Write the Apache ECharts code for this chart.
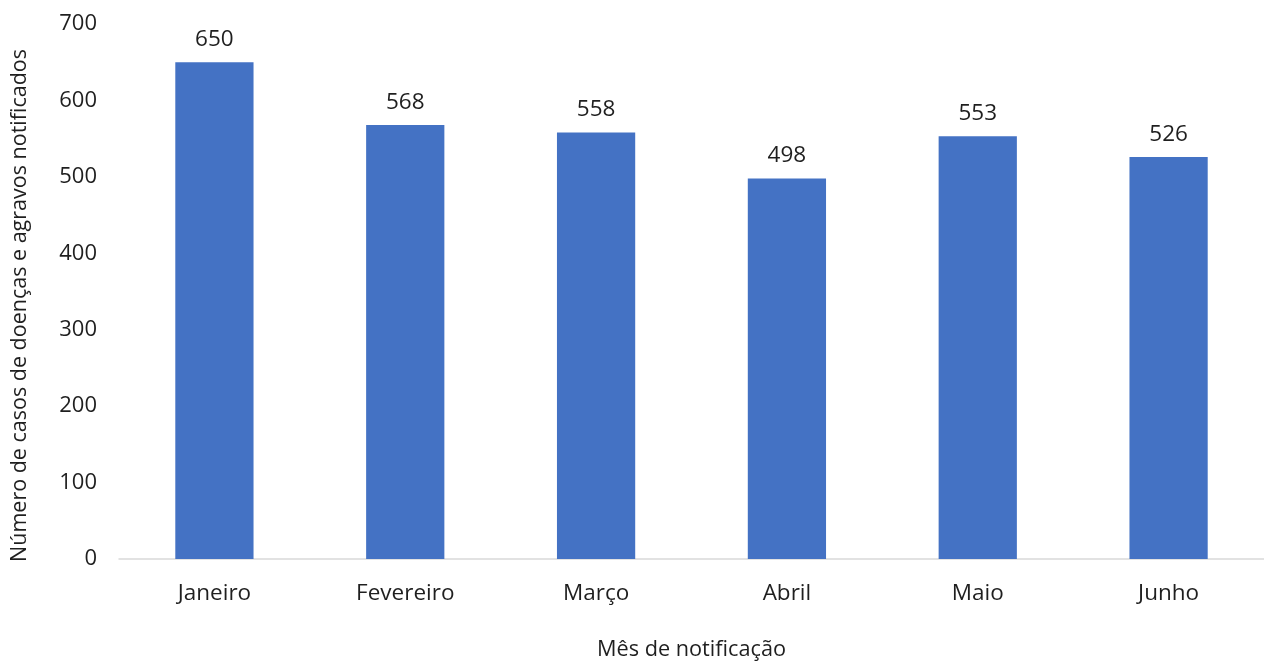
<!DOCTYPE html>
<html>
<head>
<meta charset="utf-8">
<script src="https://cdn.jsdelivr.net/npm/echarts@6/dist/echarts.min.js"></script>
<style>html,body{margin:0;padding:0;background:#fff;overflow:hidden}#c{width:100vw;height:100vh}</style>
</head>
<body>
<div id="c"></div>
<script>
const categories = ['Janeiro', 'Fevereiro', 'Março', 'Abril', 'Maio', 'Junho'];
const values = [650, 568, 558, 498, 553, 526];
const yTicks = [0, 100, 200, 300, 400, 500, 600, 700];

const font = '"Open Sans", "Noto Sans", sans-serif';
const txt = '#1f1f1f';
const chart = echarts.init(document.getElementById('c'));
chart.setOption({
  animation: false,
  textStyle: { fontFamily: font },
  grid: { left: 119, right: -10, top: 24, bottom: 99, containLabel: false },
  xAxis: {
    type: 'category',
    data: categories,
    axisTick: { show: false },
    axisLine: { lineStyle: { color: '#d9d9d9', width: 1.5 } },
    axisLabel: { color: txt, fontSize: 22.5, margin: 23, fontFamily: font },
    name: 'Mês de notificação',
    nameLocation: 'middle',
    nameGap: 80,
    nameTextStyle: { color: txt, fontSize: 21.7, fontFamily: font }
  },
  yAxis: {
    type: 'value',
    min: yTicks[0],
    max: yTicks[yTicks.length - 1],
    interval: 100,
    splitLine: { show: false },
    axisLine: { show: false },
    axisTick: { show: false },
    axisLabel: { color: txt, fontSize: 22, margin: 22, fontFamily: font },
    name: 'Número de casos de doenças e agravos notificados',
    nameLocation: 'middle',
    nameGap: 88,
    nameTextStyle: { color: txt, fontSize: 21.5, fontFamily: font, padding: [0, 28, 0, 0] }
  },
  series: [{
    type: 'bar',
    data: values,
    barWidth: '41%',
    itemStyle: { color: '#4472C4' },
    label: { show: true, position: 'top', distance: 11, color: txt, fontSize: 22.5, fontFamily: font }
  }]
});
</script>
</body>
</html>
